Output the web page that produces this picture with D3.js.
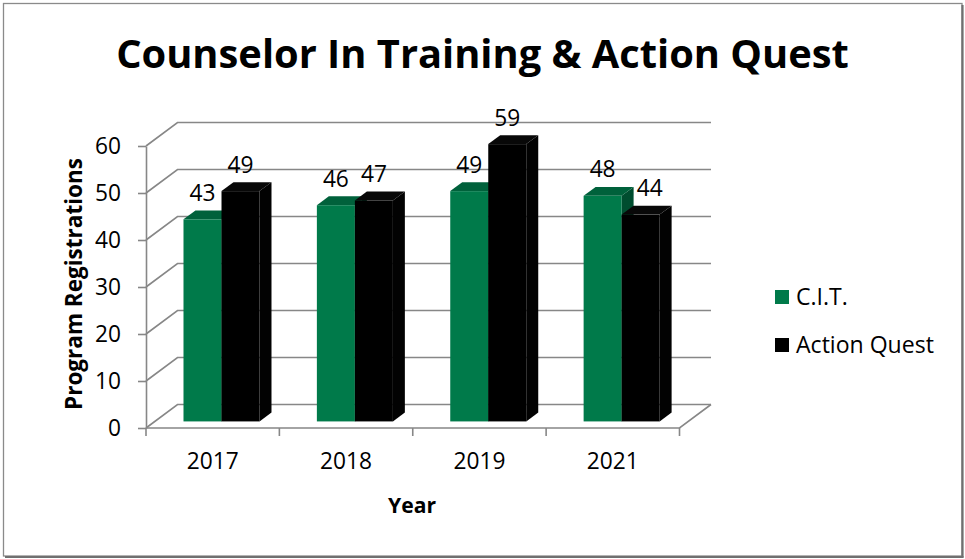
<!DOCTYPE html>
<html>
<head>
<meta charset="utf-8">
<script src="https://cdn.jsdelivr.net/npm/d3@7"></script>
<style>
  html, body { margin: 0; padding: 0; background: #fff; }
  svg { display: block; }
  text { font-family: "Open Sans", "Noto Sans", sans-serif; fill: #000; }
</style>
</head>
<body>
<svg id="chart" width="965" height="559"></svg>
<script>
// ---- data ----
const categories = ["2017", "2018", "2019", "2021"];
const seriesNames = ["C.I.T.", "Action Quest"];
const citValues = [43, 46, 49, 48];
const actionQuestValues = [49, 47, 59, 44];
const yTicks = [0, 10, 20, 30, 40, 50, 60];
const titleText = "Counselor In Training & Action Quest";
const xTitle = "Year";
const yTitle = "Program Registrations";

// ---- styles / layout ----
const seriesFront = ["#007a4a", "#000000"];
const seriesTop   = ["#00613b", "#080808"];
const seriesSide  = ["#004d2f", "#020202"];
const gridColor = "#878787";

const svg = d3.select("#chart");

// border with shadow
svg.append("rect").attr("x", 3.5).attr("y", 3.5).attr("width", 958.5).attr("height", 552.5)
  .attr("fill", "#fff").attr("stroke", "#8a8a8a").attr("stroke-width", 1.3);
svg.append("line").attr("x1", 962.5).attr("x2", 962.5).attr("y1", 5).attr("y2", 557.5)
  .attr("stroke", "#707070").attr("stroke-width", 2.2);
svg.append("line").attr("x1", 5).attr("x2", 963.5).attr("y1", 557).attr("y2", 557)
  .attr("stroke", "#707070").attr("stroke-width", 2.2);

function measureSize(str, target, weight) {
  const t = svg.append("text").attr("font-size", 20).attr("font-weight", weight || "normal").text(str);
  const w = t.node().getComputedTextLength();
  t.remove();
  return w > 0 ? 20 * target / w : 20;
}
const tickFont = measureSize("2017", 52);
const legendFont = measureSize("Action Quest", 138);

// title
const title = svg.append("text").attr("x", 482.5).attr("y", 68).attr("text-anchor", "middle")
  .attr("font-weight", "bold").attr("font-size", measureSize(titleText, 733, "bold")).text(titleText);

// scales
const y = d3.scaleLinear().domain([0, 60]).range([428, 146]);
const x0 = d3.scaleBand().domain(categories).range([146, 679.5]).paddingInner(0.43).paddingOuter(0.215);
const x1 = d3.scaleBand().domain(seriesNames).range([0, x0.bandwidth()]);
const depth = [31.5, -23.5];           // full floor depth vector
const frontFrac = 0.28, sideFrac = 0.38;
const off = [depth[0] * frontFrac, depth[1] * frontFrac];
const side = [depth[0] * sideFrac, depth[1] * sideFrac];
const xStart = x0.range()[0], xEnd = x0.range()[1];

// walls & gridlines
const grid = svg.append("g").attr("fill", "none").attr("stroke", gridColor).attr("stroke-width", 1.6);
yTicks.forEach(v => {
  const yy = y(v);
  grid.append("polyline").attr("points", [
    [xStart, yy], [xStart + depth[0], yy + depth[1]], [xEnd + depth[0], yy + depth[1]]
  ].map(p => p.join(",")).join(" "));
});
grid.append("polyline").attr("points", [
  [xStart, y(0)], [xEnd, y(0)], [xEnd + depth[0], y(0) + depth[1]]
].map(p => p.join(",")).join(" "));

// y axis
const yAxis = svg.append("g").attr("transform", `translate(${xStart},0)`)
  .call(d3.axisLeft(y).tickValues(yTicks).tickSize(8).tickPadding(17).tickSizeOuter(0));
yAxis.select(".domain").attr("stroke", gridColor).attr("stroke-width", 1.6);
yAxis.selectAll(".tick line").attr("stroke", gridColor).attr("stroke-width", 1.6);
yAxis.selectAll(".tick text").attr("font-size", tickFont).attr("fill", "#000")
  .style("font-family", "'Open Sans', sans-serif");

// x axis: labels at category centres, ticks at category boundaries
const xAxis = svg.append("g").attr("transform", `translate(0,${y(0)})`)
  .call(d3.axisBottom(x0).tickSize(0).tickPadding(25));
xAxis.select(".domain").remove();
xAxis.selectAll(".tick text").attr("font-size", tickFont).attr("fill", "#000")
  .style("font-family", "'Open Sans', sans-serif");
d3.range(categories.length + 1).forEach(i => {
  const xx = xStart + i * x0.step();
  svg.append("line").attr("x1", xx).attr("x2", xx).attr("y1", y(0)).attr("y2", y(0) + 8)
    .attr("stroke", gridColor).attr("stroke-width", 1.6);
});

// bars
const seriesValues = [citValues, actionQuestValues];
const barsG = svg.append("g");
const labelsG = svg.append("g");
categories.forEach((c, ci) => {
  seriesValues.forEach((vals, si) => {
    const v = vals[ci];
    const xl = x0(c) + x1(seriesNames[si]) + off[0];
    const w = x1.bandwidth();
    const yt = y(v) + off[1];
    const yb = y(0) + off[1];
    barsG.append("polygon").attr("fill", seriesSide[si]).attr("points", [
      [xl + w, yt], [xl + w + side[0], yt + side[1]], [xl + w + side[0], yb + side[1]], [xl + w, yb]
    ].map(p => p.join(",")).join(" "));
    barsG.append("polygon").attr("fill", seriesTop[si]).attr("points", [
      [xl, yt], [xl + side[0], yt + side[1]], [xl + w + side[0], yt + side[1]], [xl + w, yt]
    ].map(p => p.join(",")).join(" "));
    barsG.append("rect").attr("x", xl).attr("y", yt).attr("width", w).attr("height", yb - yt)
      .attr("fill", seriesFront[si]);
    let dx = 0;
    if (si > 0 && seriesValues[si - 1][ci] > v) dx = 9;
    labelsG.append("text").attr("x", xl + w / 2 + dx).attr("y", yt - 18.5)
      .attr("text-anchor", "middle").attr("font-size", tickFont).text(v);
  });
});

// axis titles
svg.append("text").attr("x", 412).attr("y", 513).attr("text-anchor", "middle")
  .attr("font-weight", "bold").attr("font-size", measureSize(xTitle, 48, "bold")).text(xTitle);
svg.append("text").attr("transform", "translate(82,284) rotate(-90)")
  .attr("text-anchor", "middle").attr("font-weight", "bold")
  .attr("font-size", measureSize(yTitle, 252, "bold")).text(yTitle);

// legend
const legend = svg.append("g");
seriesNames.forEach((name, i) => {
  const ly = 290 + i * 48;
  legend.append("rect").attr("x", 775).attr("y", ly).attr("width", 14).attr("height", 14)
    .attr("fill", seriesFront[i]);
  legend.append("text").attr("x", 796).attr("y", ly + 14.5).attr("font-size", legendFont).text(name);
});
</script>
</body>
</html>
